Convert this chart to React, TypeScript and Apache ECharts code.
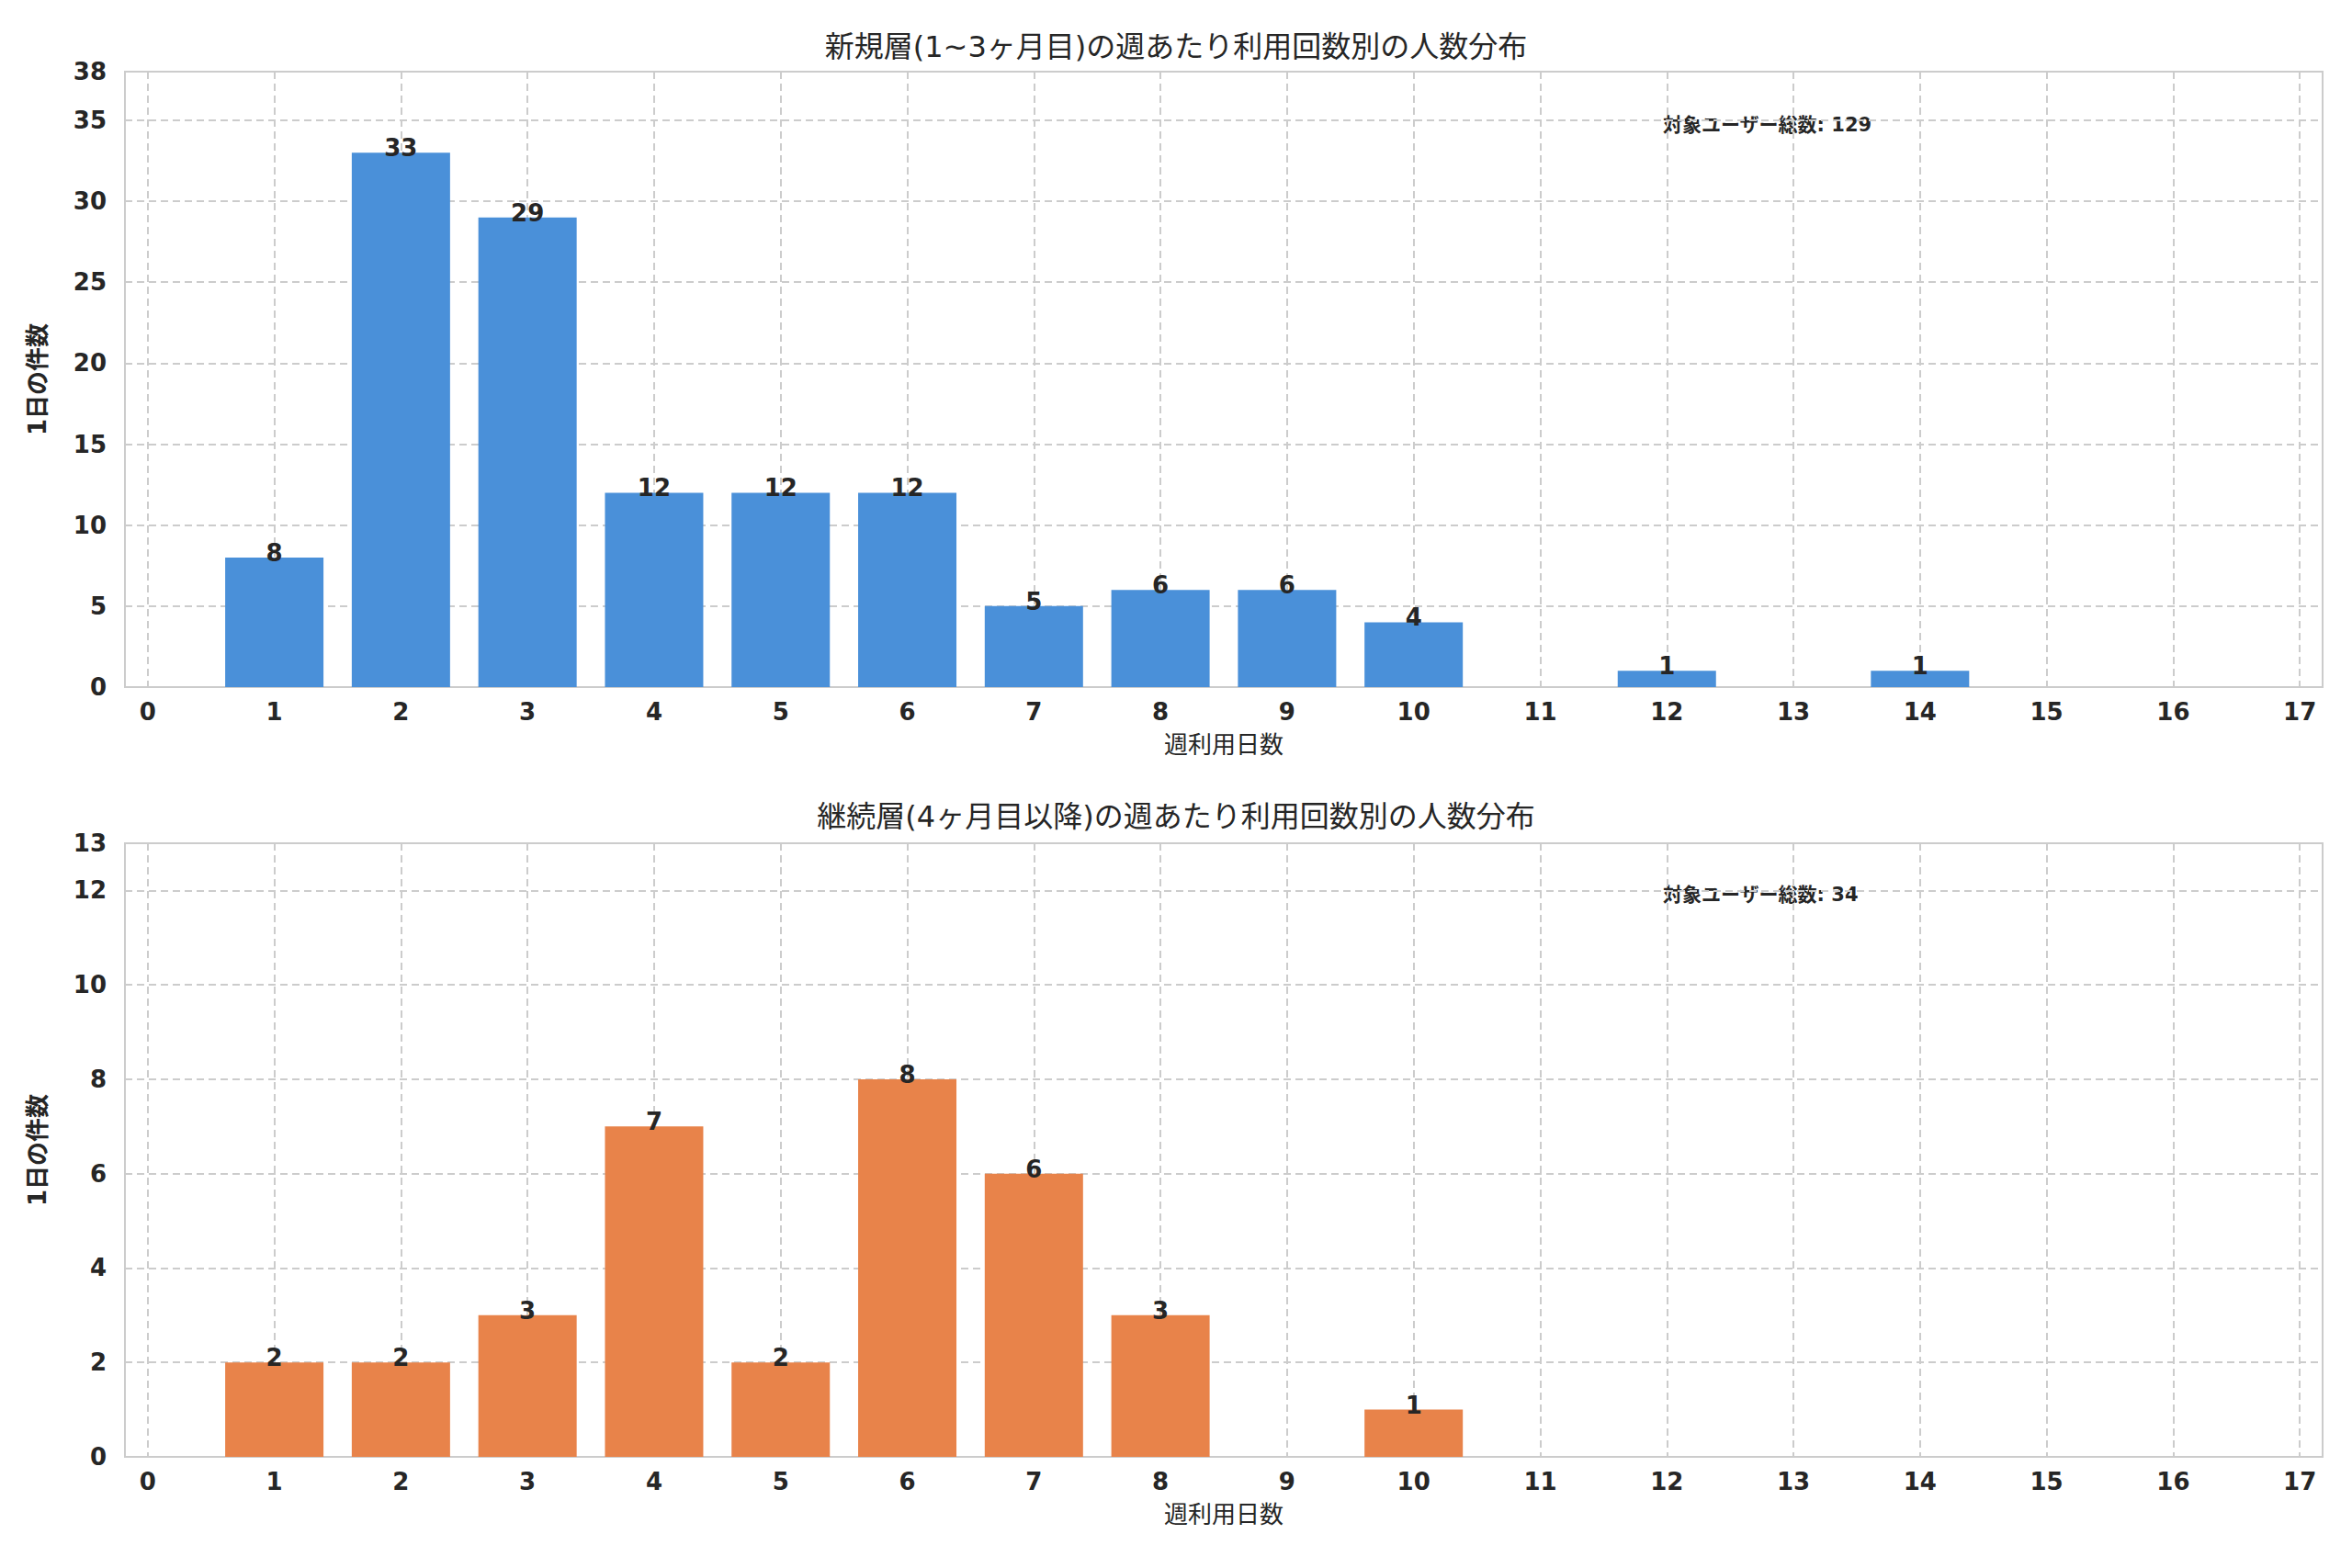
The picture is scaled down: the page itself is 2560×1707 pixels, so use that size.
import React, { useEffect, useRef } from "react";
import * as echarts from "echarts";

const xTicks = [0, 1, 2, 3, 4, 5, 6, 7, 8, 9, 10, 11, 12, 13, 14, 15, 16, 17];
const topX = [1, 2, 3, 4, 5, 6, 7, 8, 9, 10, 12, 14];
const topY = [8, 33, 29, 12, 12, 12, 5, 6, 6, 4, 1, 1];
const botX = [1, 2, 3, 4, 5, 6, 7, 8, 10];
const botY = [2, 2, 3, 7, 2, 8, 6, 3, 1];
const topTitle = "新規層(1~3ヶ月目)の週あたり利用回数別の人数分布";
const botTitle = "継続層(4ヶ月目以降)の週あたり利用回数別の人数分布";
const xName = "週利用日数";
const yName = "1日の件数";
const totalLabel = "対象ユーザー総数";

const FONT = "DejaVu Sans, Noto Sans CJK JP, sans-serif";
const TXT = "#262626";

export default function App() {
  const ref = useRef<HTMLDivElement>(null);
  useEffect(() => {
    const chart = echarts.init(ref.current!, null, { renderer: "svg" });
    const sum = (a: number[]) => a.reduce((s, v) => s + v, 0);
    const grids = [
      { left: 136, right: 32, top: 78, height: 670 },
      { left: 136, right: 32, top: 918, height: 668 },
    ];
    const mkX = (i: number) => ({
      type: "value",
      gridIndex: i,
      min: -0.18,
      max: 17.18,
      name: xName,
      nameLocation: "middle",
      nameGap: 50,
      nameTextStyle: { fontSize: 26, color: TXT, fontFamily: FONT },
      axisLine: { show: false },
      axisTick: { show: false, customValues: xTicks },
      axisLabel: { customValues: xTicks, fontSize: 26, fontWeight: "bold", color: TXT, fontFamily: FONT, margin: 14 },
      splitLine: { show: true, lineStyle: { type: [8, 5], color: "#cccccc", width: 2 } },
    });
    const mkY = (i: number, max: number, interval: number) => ({
      type: "value",
      gridIndex: i,
      min: 0,
      max,
      interval,
      name: yName,
      nameLocation: "middle",
      nameGap: 82,
      nameRotate: 90,
      nameTextStyle: { fontSize: 26, color: TXT, fontFamily: FONT, fontWeight: "bold" },
      axisLine: { show: false },
      axisTick: { show: false },
      axisLabel: { fontSize: 26, fontWeight: "bold", color: TXT, fontFamily: FONT, margin: 20, showMaxLabel: max % interval === 0 ? false : true },
      splitLine: { show: true, lineStyle: { type: [8, 5], color: "#cccccc", width: 2 } },
    });
    const mkSeries = (i: number, xs: number[], ys: number[], color: string) => ({
      type: "bar",
      xAxisIndex: i,
      yAxisIndex: i,
      barWidth: 107,
      data: xs.map((x, k) => [x, ys[k]]),
      itemStyle: { color },
      label: {
        show: true,
        position: "top",
        distance: -8,
        fontSize: 26,
        fontWeight: "bold",
        color: TXT,
        fontFamily: FONT,
        formatter: (p: any) => String(p.value[1]),
      },
    });
    chart.setOption({
      animation: false,
      backgroundColor: "#ffffff",
      title: [
        { text: topTitle, left: "center", top: 30, textStyle: { fontSize: 32, fontWeight: "normal", color: TXT, fontFamily: FONT } },
        { text: botTitle, left: "center", top: 868, textStyle: { fontSize: 32, fontWeight: "normal", color: TXT, fontFamily: FONT } },
      ],
      grid: grids.map((g) => ({ ...g, show: true, borderColor: "#cccccc", borderWidth: 2, backgroundColor: "transparent" })),
      xAxis: [mkX(0), mkX(1)],
      yAxis: [mkY(0, 38, 5), mkY(1, 13, 2)],
      series: [mkSeries(0, topX, topY, "#4a90d9"), mkSeries(1, botX, botY, "#e8834a")],
      graphic: [
        { type: "text", left: 1810, top: 125, style: { text: `${totalLabel}: ${sum(topY)}`, fontSize: 21, fontWeight: "bold", fill: TXT, fontFamily: FONT } },
        { type: "text", left: 1810, top: 963, style: { text: `${totalLabel}: ${sum(botY)}`, fontSize: 21, fontWeight: "bold", fill: TXT, fontFamily: FONT } },
      ],
    });
    return () => chart.dispose();
  }, []);
  return <div ref={ref} style={{ position: "fixed", left: 0, top: 0, width: 2560, height: 1707 }} />;
}
